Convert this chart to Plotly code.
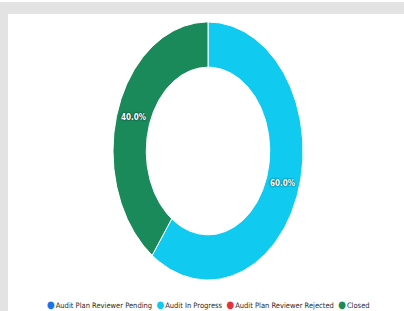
import numpy as np
import plotly.graph_objects as go

labels = ["Audit Plan Reviewer Pending", "Audit In Progress", "Audit Plan Reviewer Rejected", "Closed"]
values = [0, 60, 0, 40]
colors = ["#1a73e8", "#10caf0", "#e2323f", "#1b8a5a"]

HOLE = 0.65
FONT = "DejaVu Sans Condensed, Liberation Sans Narrow, Liberation Sans, Arial, sans-serif"

total = float(sum(values))
fig = go.Figure()

start = 0.0  # angle from top, clockwise, in fraction of a turn
for lab, val, col in zip(labels, values, colors):
    frac = val / total
    if frac > 0:
        th = np.linspace(start, start + frac, 200) * 2 * np.pi
        xo, yo = np.sin(th), np.cos(th)
        xi, yi = HOLE * np.sin(th[::-1]), HOLE * np.cos(th[::-1])
        xs = np.concatenate([xo, xi, xo[:1]])
        ys = np.concatenate([yo, yi, yo[:1]])
        fig.add_trace(go.Scatter(x=xs, y=ys, mode="lines", fill="toself", name=lab,
                                 fillcolor=col, line=dict(color="white", width=1),
                                 showlegend=False, hoverinfo="skip"))
        mid = (start + frac / 2) * 2 * np.pi
        rr = (1 + HOLE) / 2
        fig.add_trace(go.Scatter(x=[rr * np.sin(mid)], y=[rr * np.cos(mid)], mode="text",
                                 text=[f"{frac*100:.1f}%"],
                                 textfont=dict(family=FONT, size=8, color="white", weight="bold",
                                               shadow="0px 0px 2px rgba(0,0,0,0.9)"),
                                 showlegend=False, hoverinfo="skip"))
    start += frac

# legend row built from the category names and colours
legend_text = "&nbsp;&nbsp;".join(
    f"<span style='color:{c};font-size:10px'>●</span><span style='font-size:3px'>&nbsp;</span>{l}"
    for l, c in zip(labels, colors)
)

fig.update_layout(
    width=404, height=311,
    margin=dict(l=8, r=0, t=14, b=0, autoexpand=False),
    paper_bgcolor="#e3e3e3",
    plot_bgcolor="white",
    xaxis=dict(visible=False, range=[-200 / 95, 196 / 95], fixedrange=True),
    yaxis=dict(visible=False, range=[-160 / 129, 137 / 129], fixedrange=True),
    showlegend=False,
    annotations=[dict(text=legend_text, xref="paper", yref="paper", x=200 / 396, y=7 / 297,
                      xanchor="center", yanchor="middle", showarrow=False,
                      font=dict(family=FONT, size=7.5, color="#2a2a2a"))],
    shapes=[dict(type="rect", xref="paper", yref="paper", x0=-0.1, x1=1.1,
                 y0=1 + 12 / 297, y1=1.1, fillcolor="white", line=dict(width=0), layer="below")],
)

fig.write_html("out.html", config={"displayModeBar": False},
               post_script="document.body.style.margin='0';")
